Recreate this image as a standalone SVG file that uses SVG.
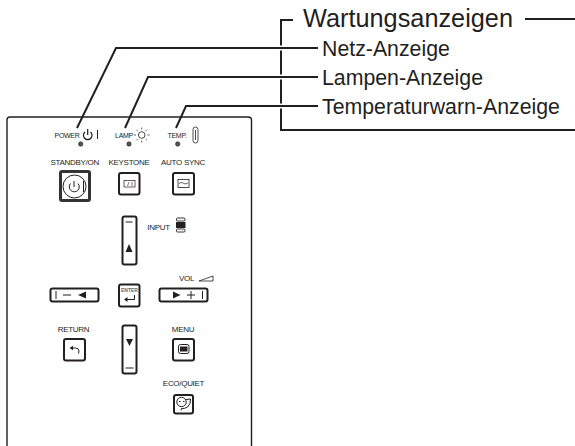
<svg xmlns="http://www.w3.org/2000/svg" width="575" height="446" viewBox="0 0 575 446">
<style>
.t{font-family:"Liberation Sans",Arial,sans-serif;fill:#231f20}
.m{font-size:21.300px}
.s{font-size:8px;text-anchor:middle;letter-spacing:-.3px}
.xs{font-size:7px;text-anchor:middle;letter-spacing:-.3px}
.k{fill:#fff;stroke:#231f20;stroke-width:2}
.l{fill:none;stroke:#231f20;stroke-width:2}
.h{fill:none;stroke:#fff;stroke-width:5}
.n{fill:none;stroke:#231f20;stroke-width:1}
.f{fill:#231f20}
.d{fill:#555;stroke:#231f20;stroke-width:.6}
</style>
<rect width="575" height="446" fill="#fff"/>
<g id="body"><path class="n" style="stroke-width:1.400" d="M7 446V120Q7 117 10 117H248Q251.500 117 251.500 120V446"/></g>
<g id="connectors">
<path class="l" d="M293 20H281V130H575"/>
<path class="l" d="M525 19H575"/>
<path class="h" d="M278 48H284M278 77H284M278 106H284"/>
<path class="l" d="M77 128L116 48H318"/>
<path class="l" d="M125 128L148 77H318"/>
<path class="l" d="M176 128L186 106H318"/>
</g>
<g id="title"><text class="t" x="303" y="27" style="font-size:25.300px">Wartungsanzeigen</text></g>
<g id="label-netz"><text class="t m" x="322" y="55.500">Netz-Anzeige</text></g>
<g id="label-lampe"><text class="t m" x="322" y="85">Lampen-Anzeige</text></g>
<g id="label-temp"><text class="t m" x="322" y="113.500">Temperaturwarn-Anzeige</text></g>
<g id="power"><text class="t xs" x="67" y="138">POWER</text>
<path class="n" style="stroke-width:1.200" d="M85 132a4.300 4.300 0 1 0 5.500 0M87.700 129v6"/><path class="n" d="M97.500 130v9"/><circle class="d" cx="80.700" cy="144" r="2.200"/></g>
<g id="lamp"><text class="t xs" x="124" y="138">LAMP</text>
<circle class="n" cx="141.700" cy="135" r="3.300" style="stroke-width:.8"/><path class="n" style="stroke-width:.7" d="M141.700 129.500v-2M141.700 140.500v2M136 135h-2M147.500 135h2M137.700 131l-1.300-1.300M145.700 131l1.300-1.300M137.700 139l-1.300 1.300M145.700 139l1.300 1.300"/><circle class="d" cx="129" cy="144" r="2.200"/></g>
<g id="temp"><text class="t xs" x="177" y="138">TEMP.</text>
<rect class="n" x="193" y="127" width="5" height="16" rx="2.500" style="stroke-width:.8"/><path class="n" style="stroke-width:.8" d="M195.500 130v10"/><circle class="d" cx="177.700" cy="144" r="2.200"/></g>
<g id="standby"><text class="t s" x="74.700" y="165">STANDBY/ON</text>
<rect x="60.500" y="171.500" width="29" height="29" rx="1.500" fill="#fff" stroke="#333" stroke-width="3"/>
<circle class="n" cx="74.500" cy="186.500" r="11.500"/>
<path class="n" style="stroke-width:1" d="M70.500 183.500a5 5 0 1 0 7.500 0M74 181v6M83.500 181v11"/></g>
<g id="keystone"><text class="t s" x="129" y="165">KEYSTONE</text>
<rect class="k" x="119" y="173" width="20.500" height="21.500" rx="2"/>
<rect class="n" x="124" y="180.500" width="11" height="6.500" style="stroke-width:.7"/><path class="n" style="stroke-width:.6" d="M127.500 186l1.500-4M132 182v4"/></g>
<g id="autosync"><text class="t s" x="183" y="165">AUTO SYNC</text>
<rect class="k" x="173" y="173" width="21" height="21.500" rx="2"/>
<rect class="n" x="178" y="179.500" width="11" height="8" style="stroke-width:.8"/><path class="n" style="stroke-width:.7" d="M179 184q2-3 4-1t5 0"/></g>
<g id="up"><rect class="k" x="122.500" y="216.500" width="14" height="48" rx="2"/>
<path class="n" d="M125.500 222h7"/><path class="f" d="M129 244l3.500 8h-7z"/></g>
<g id="input"><text class="t s" x="158.500" y="230">INPUT</text>
<rect x="176.500" y="218" width="8.500" height="3" rx="1" class="n" style="stroke-width:.9"/><rect x="176" y="222" width="9.500" height="6" class="f"/><rect x="176.500" y="229" width="8.500" height="3" rx="1" class="n" style="stroke-width:.9"/></g>
<g id="left"><rect class="k" x="50.500" y="288.500" width="48" height="13" rx="2"/>
<path class="n" d="M56 291v8M63 295h8"/><path class="f" d="M78 295l8-3.500v7z"/></g>
<g id="enter"><rect class="k" x="119" y="284.500" width="20.500" height="22" rx="2"/>
<text class="t" x="129.500" y="292" text-anchor="middle" style="font-size:5px;font-weight:bold;fill:#666">ENTER</text>
<path class="n" d="M134.500 295v4.500h-9"/><path class="f" d="M124 299.500l3.500-2.500v5z"/></g>
<g id="vol"><text class="t s" x="186.500" y="281">VOL</text><path class="n" style="stroke-width:.8" d="M199 281l14-5v5z"/>
<rect class="k" x="159.500" y="288.500" width="48" height="13" rx="2"/>
<path class="f" d="M173 291.500l7.500 3.500-7.500 3.500z"/><path class="n" d="M187 295h8M191 291v8M202.500 291v8"/></g>
<g id="return"><text class="t s" x="73.500" y="332">RETURN</text>
<rect class="k" x="64" y="339" width="21" height="21.500" rx="2"/>
<path class="n" d="M72 348h3.500q3.500 0 3.500 3l-.5 2.500"/><path class="f" d="M69.500 348l3.500-2.300v4.600z"/></g>
<g id="down"><rect class="k" x="122.500" y="325.500" width="14" height="48" rx="2"/>
<path class="f" d="M129.500 346l3.500-7h-7z"/><path class="n" d="M125.500 368h8"/></g>
<g id="menu"><text class="t s" x="183" y="332">MENU</text>
<rect class="k" x="173" y="339" width="21" height="21.500" rx="2"/>
<rect class="n" x="178.500" y="344.500" width="10.500" height="9" rx="2"/><rect class="f" x="180" y="346.500" width="7.500" height="5"/></g>
<g id="eco"><text class="t s" x="183.500" y="386">ECO/QUIET</text>
<rect class="k" x="174" y="395" width="19" height="18.500" rx="2"/>
<circle class="n" cx="181.500" cy="402" r="4.700"/><path class="n" d="M186 399.500l4.500-.5q.5 5-3 8-3 2-6 1.500l-.5 2"/><path class="f" d="M179 401h1.500v1h-1.500zM183 401h1.500v1h-1.500z"/></g>
</svg>
